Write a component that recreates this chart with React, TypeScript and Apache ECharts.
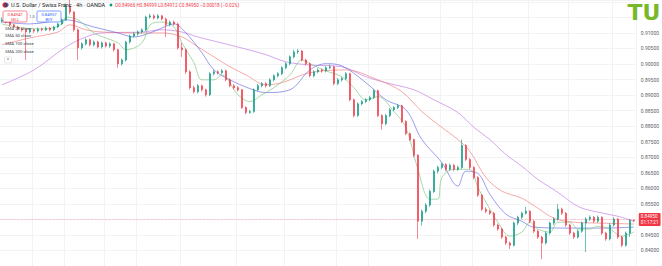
import React, { useEffect, useRef } from "react";
import * as echarts from "echarts";

// 4h USD/CHF candles
const opens = [
  0.9138, 0.9142, 0.9135, 0.9126, 0.9119, 0.9113, 0.9110, 0.9103, 0.9110, 0.9106,
  0.9113, 0.9110, 0.9116, 0.9110, 0.9119, 0.9129, 0.9142, 0.9187, 0.9167, 0.9110,
  0.9052, 0.9065, 0.9078, 0.9062, 0.9071, 0.9055, 0.9068, 0.9058, 0.9065, 0.9046,
  0.9001, 0.9013, 0.9071, 0.9090, 0.9097, 0.9103, 0.9110, 0.9151, 0.9155, 0.9148,
  0.9155, 0.9145, 0.9126, 0.9135, 0.9129, 0.9052, 0.9046, 0.8975, 0.8924, 0.8911,
  0.8930, 0.8917, 0.8901, 0.8969, 0.8975, 0.8972, 0.8978, 0.8949, 0.8930, 0.8924,
  0.8917, 0.8860, 0.8844, 0.8847, 0.8917, 0.8930, 0.8937, 0.8930, 0.8949, 0.8962,
  0.8969, 0.8988, 0.9001, 0.9023, 0.9039, 0.9042, 0.9013, 0.9001, 0.8962, 0.8975,
  0.8981, 0.8978, 0.8988, 0.8991, 0.8937, 0.8949, 0.8953, 0.8969, 0.8885, 0.8834,
  0.8872, 0.8879, 0.8885, 0.8892, 0.8914, 0.8834, 0.8808, 0.8834, 0.8853, 0.8860,
  0.8866, 0.8815, 0.8776, 0.8757, 0.8706, 0.8494, 0.8526, 0.8546, 0.8590, 0.8655,
  0.8667, 0.8677, 0.8661, 0.8674, 0.8661, 0.8667, 0.8738, 0.8693, 0.8667, 0.8635,
  0.8578, 0.8533, 0.8526, 0.8520, 0.8482, 0.8469, 0.8443, 0.8424, 0.8417, 0.8488,
  0.8507, 0.8520, 0.8526, 0.8494, 0.8462, 0.8443, 0.8424, 0.8456, 0.8488, 0.8501,
  0.8533, 0.8520, 0.8482, 0.8456, 0.8443, 0.8462, 0.8488, 0.8501, 0.8507, 0.8494,
  0.8507, 0.8456, 0.8437, 0.8482, 0.8501, 0.8443, 0.8417, 0.8456, 0.84966,
];
const closes = [
  0.9142, 0.9135, 0.9126, 0.9119, 0.9113, 0.9110, 0.9103, 0.9110, 0.9106, 0.9113,
  0.9110, 0.9116, 0.9110, 0.9119, 0.9129, 0.9142, 0.9187, 0.9167, 0.9110, 0.9052,
  0.9065, 0.9078, 0.9062, 0.9071, 0.9055, 0.9068, 0.9058, 0.9065, 0.9046, 0.9001,
  0.9013, 0.9071, 0.9090, 0.9097, 0.9103, 0.9110, 0.9151, 0.9155, 0.9148, 0.9155,
  0.9145, 0.9126, 0.9135, 0.9129, 0.9052, 0.9046, 0.8975, 0.8924, 0.8911, 0.8930,
  0.8917, 0.8901, 0.8969, 0.8975, 0.8972, 0.8978, 0.8949, 0.8930, 0.8924, 0.8917,
  0.8860, 0.8844, 0.8847, 0.8917, 0.8930, 0.8937, 0.8930, 0.8949, 0.8962, 0.8969,
  0.8988, 0.9001, 0.9023, 0.9039, 0.9042, 0.9013, 0.9001, 0.8962, 0.8975, 0.8981,
  0.8978, 0.8988, 0.8991, 0.8937, 0.8949, 0.8953, 0.8969, 0.8885, 0.8834, 0.8872,
  0.8879, 0.8885, 0.8892, 0.8914, 0.8834, 0.8808, 0.8834, 0.8853, 0.8860, 0.8866,
  0.8815, 0.8776, 0.8757, 0.8706, 0.8494, 0.8526, 0.8546, 0.8590, 0.8655, 0.8667,
  0.8677, 0.8661, 0.8674, 0.8661, 0.8667, 0.8738, 0.8693, 0.8667, 0.8635, 0.8578,
  0.8533, 0.8526, 0.8520, 0.8482, 0.8469, 0.8443, 0.8424, 0.8417, 0.8488, 0.8507,
  0.8520, 0.8526, 0.8494, 0.8462, 0.8443, 0.8424, 0.8456, 0.8488, 0.8501, 0.8533,
  0.8520, 0.8482, 0.8456, 0.8443, 0.8462, 0.8488, 0.8501, 0.8507, 0.8494, 0.8507,
  0.8456, 0.8437, 0.8482, 0.8501, 0.8443, 0.8417, 0.8456, 0.8497, 0.8495,
];
const highs = [
  0.9150, 0.9146, 0.9138, 0.9129, 0.9123, 0.9118, 0.9114, 0.9115, 0.9114, 0.9118,
  0.9117, 0.9121, 0.9120, 0.9123, 0.9133, 0.9146, 0.9195, 0.9212, 0.9170, 0.9114,
  0.9070, 0.9083, 0.9082, 0.9076, 0.9075, 0.9073, 0.9072, 0.9070, 0.9068, 0.9049,
  0.9018, 0.9075, 0.9095, 0.9102, 0.9108, 0.9115, 0.9156, 0.9162, 0.9160, 0.9161,
  0.9158, 0.9149, 0.9140, 0.9140, 0.9133, 0.9068, 0.9050, 0.8980, 0.8930, 0.8936,
  0.8934, 0.8921, 0.8974, 0.8981, 0.8980, 0.8984, 0.8982, 0.8954, 0.8936, 0.8929,
  0.8920, 0.8864, 0.8852, 0.8922, 0.8936, 0.8942, 0.8942, 0.8954, 0.8967, 0.8974,
  0.8993, 0.9006, 0.9028, 0.9046, 0.9048, 0.9045, 0.9017, 0.9005, 0.8980, 0.8986,
  0.8985, 0.8993, 0.8998, 0.8994, 0.8955, 0.8958, 0.8974, 0.8972, 0.8889, 0.8877,
  0.8884, 0.8890, 0.8897, 0.8920, 0.8918, 0.8838, 0.8839, 0.8858, 0.8865, 0.8872,
  0.8869, 0.8819, 0.8780, 0.8760, 0.8710, 0.8532, 0.8552, 0.8596, 0.8660, 0.8673,
  0.8683, 0.8681, 0.8680, 0.8678, 0.8673, 0.8757, 0.8742, 0.8697, 0.8671, 0.8639,
  0.8582, 0.8539, 0.8531, 0.8524, 0.8486, 0.8473, 0.8447, 0.8429, 0.8493, 0.8512,
  0.8525, 0.8540, 0.8530, 0.8498, 0.8466, 0.8447, 0.8461, 0.8493, 0.8507, 0.8549,
  0.8538, 0.8524, 0.8486, 0.8460, 0.8467, 0.8493, 0.8507, 0.8513, 0.8511, 0.8513,
  0.8510, 0.8460, 0.8488, 0.8508, 0.8505, 0.8447, 0.8461, 0.8502, 0.84999,
];
const lows = [
  0.9132, 0.9130, 0.9120, 0.9114, 0.9108, 0.9104, 0.9013, 0.9098, 0.9100, 0.9101,
  0.9105, 0.9106, 0.9105, 0.9106, 0.9115, 0.9125, 0.9138, 0.9160, 0.9104, 0.9013,
  0.9046, 0.9060, 0.9057, 0.9057, 0.9050, 0.9050, 0.9053, 0.9052, 0.9040, 0.8988,
  0.8995, 0.9008, 0.9066, 0.9085, 0.9091, 0.9098, 0.9106, 0.9146, 0.9143, 0.9144,
  0.9140, 0.9087, 0.9121, 0.9124, 0.9046, 0.9023, 0.8968, 0.8918, 0.8905, 0.8906,
  0.8911, 0.8895, 0.8897, 0.8963, 0.8966, 0.8967, 0.8944, 0.8925, 0.8918, 0.8911,
  0.8855, 0.8838, 0.8840, 0.8843, 0.8912, 0.8925, 0.8924, 0.8926, 0.8944, 0.8957,
  0.8964, 0.8983, 0.8996, 0.9018, 0.9033, 0.9008, 0.8995, 0.8957, 0.8957, 0.8970,
  0.8972, 0.8973, 0.8984, 0.8931, 0.8932, 0.8943, 0.8948, 0.8880, 0.8828, 0.8830,
  0.8867, 0.8874, 0.8880, 0.8887, 0.8829, 0.8789, 0.8803, 0.8829, 0.8848, 0.8855,
  0.8810, 0.8771, 0.8752, 0.8700, 0.8437, 0.8480, 0.8520, 0.8540, 0.8585, 0.8648,
  0.8661, 0.8655, 0.8656, 0.8655, 0.8656, 0.8662, 0.8688, 0.8661, 0.8629, 0.8572,
  0.8527, 0.8520, 0.8514, 0.8476, 0.8463, 0.8437, 0.8418, 0.8405, 0.8413, 0.8482,
  0.8501, 0.8515, 0.8488, 0.8456, 0.8437, 0.8372, 0.8419, 0.8451, 0.8482, 0.8496,
  0.8514, 0.8476, 0.8450, 0.8437, 0.8438, 0.8457, 0.8395, 0.8495, 0.8488, 0.8489,
  0.8450, 0.8431, 0.8432, 0.8477, 0.8437, 0.8411, 0.8412, 0.8443, 0.84912,
];

// Moving averages as [candle index, value]
const sma20 = [
  [0, 0.9129], [5, 0.9116], [11, 0.9113], [15, 0.9129], [16, 0.9151], [19, 0.9142],
  [23, 0.9100], [29, 0.9068], [31, 0.9046], [35, 0.9068], [37, 0.9126], [40, 0.9135],
  [43, 0.9119], [45, 0.9068], [48, 0.9004], [50, 0.8949], [53, 0.8949], [55, 0.8965],
  [59, 0.8901], [62, 0.8879], [65, 0.8901], [68, 0.8924], [72, 0.8965], [75, 0.9013],
  [77, 0.9001], [81, 0.8978], [85, 0.8959], [88, 0.8924], [91, 0.8885], [94, 0.8895],
  [98, 0.8847], [101, 0.8796], [104, 0.8661], [107, 0.8565], [109, 0.8565], [110, 0.8635],
  [113, 0.8661], [117, 0.8661], [119, 0.8603], [122, 0.8533], [124, 0.8491], [127, 0.8446],
  [130, 0.8459], [132, 0.8491], [134, 0.8469], [137, 0.8459], [139, 0.8491], [142, 0.8491],
  [144, 0.8469], [147, 0.8469], [149, 0.8478], [152, 0.8469], [155, 0.8446], [158, 0.8459],
];
const sma50 = [
  [0, 0.9135], [7, 0.9129], [16, 0.9142], [23, 0.9119], [29, 0.9100], [33, 0.9087],
  [37, 0.9100], [40, 0.9116], [43, 0.9129], [46, 0.9100], [50, 0.9036], [53, 0.8981],
  [57, 0.8949], [62, 0.8921], [66, 0.8908], [72, 0.8917], [77, 0.8981], [81, 0.9001],
  [85, 0.8994], [91, 0.8940], [96, 0.8885], [101, 0.8853], [105, 0.8757], [110, 0.8683],
  [114, 0.8607], [116, 0.8655], [119, 0.8648], [122, 0.8581], [126, 0.8517], [130, 0.8494],
  [133, 0.8475], [142, 0.8472], [150, 0.8472], [158, 0.8475],
];
const sma100 = [
  [0, 0.9062], [7, 0.9084], [14, 0.9103], [17, 0.9126], [21, 0.9110], [25, 0.9103],
  [35, 0.9100], [40, 0.9100], [45, 0.9087], [49, 0.9055], [53, 0.9023], [57, 0.8991],
  [61, 0.8965], [66, 0.8933], [70, 0.8940], [77, 0.8972], [86, 0.8981], [94, 0.8949],
  [100, 0.8911], [105, 0.8847], [110, 0.8796], [114, 0.8757], [117, 0.8719], [121, 0.8635],
  [125, 0.8591], [130, 0.8568], [134, 0.8536], [138, 0.8504], [143, 0.8491], [150, 0.8488],
  [158, 0.8485],
];
const sma200 = [
  [0, 0.8933], [8, 0.8981], [16, 0.9055], [21, 0.9087], [25, 0.9100], [35, 0.9103],
  [40, 0.9110], [45, 0.9103], [49, 0.9087], [58, 0.9058], [66, 0.9030], [71, 0.9007],
  [77, 0.8997], [85, 0.8991], [91, 0.8959], [96, 0.8940], [103, 0.8917], [108, 0.8885],
  [114, 0.8844], [118, 0.8796], [122, 0.8757], [126, 0.8709], [130, 0.8671], [134, 0.8629],
  [139, 0.8587], [144, 0.8542], [148, 0.8526], [154, 0.8510], [158, 0.8494],
];

const timeGridIdx = [8, 16, 26, 34, 45, 59, 71, 84, 92, 110, 118, 132, 142, 153];
const lastPrice = 0.8495;
const headerTitle = "U.S. Dollar / Swiss Franc · 4h · OANDA";
const headerOhlc = "O0.84966 H0.84999 L0.84912 C0.84950 −0.00018 (−0.02%)";
const sellPrice = "0.84947";
const buyPrice = "0.84957";
const spread = "1.0";
const countdown = "01:17:21";
const legendNames = ["SMA 20 close", "SMA 50 close", "SMA 100 close", "SMA 200 close"];

const UP = "#089981";
const DOWN = "#f23645";
const FONT = "Roboto, 'Liberation Sans', sans-serif";

export default function App() {
  const ref = useRef<HTMLDivElement>(null);
  useEffect(() => {
    document.body.style.margin = "0";
    const chart = echarts.init(ref.current!, null, { renderer: "svg" });
    const cats = closes.map((_, i) => String(i));
    const candles = closes.map((c, i) => [opens[i], c, lows[i], highs[i]]);
    const maLine = (name: string, data: number[][], color: string) => ({
      name,
      type: "line",
      data,
      showSymbol: false,
      symbol: "none",
      smooth: 0.35,
      connectNulls: true,
      silent: true,
      lineStyle: { color, width: 0.8, opacity: 0.85 },
      z: 3,
    });
    const legendY = [28, 35.5, 43, 51];
    chart.setOption({
      animation: false,
      backgroundColor: "#ffffff",
      grid: { left: 0, top: 0, width: 637, height: 267, containLabel: false },
      xAxis: {
        type: "category",
        data: cats,
        boundaryGap: true,
        axisLine: { show: false },
        axisTick: { show: false },
        axisLabel: { show: false },
        splitLine: {
          show: true,
          interval: (index: number) => timeGridIdx.includes(index),
          lineStyle: { color: "#f2f3f5", width: 1 },
        },
      },
      yAxis: {
        type: "value",
        position: "right",
        min: 0.835,
        max: 0.9206,
        interval: 0.005,
        axisLine: { show: false },
        axisTick: { show: false },
        splitLine: { lineStyle: { color: "#f2f3f5", width: 1 } },
        axisLabel: {
          fontSize: 5,
          color: "#5d606b",
          fontFamily: FONT,
          margin: 5,
          showMinLabel: false,
          showMaxLabel: false,
          // labels hidden in the reference under the logo and the price tag
          formatter: (v: number) =>
            v > 0.9125 || Math.abs(v - 0.85) < 1e-6 ? "" : v.toFixed(5),
        },
      },
      series: [
        maLine("SMA 200 close", sma200, "#c27be6"),
        maLine("SMA 100 close", sma100, "#f2807f"),
        maLine("SMA 50 close", sma50, "#6a6fe0"),
        maLine("SMA 20 close", sma20, "#7cc67f"),
        {
          name: "USDCHF",
          type: "candlestick",
          data: candles,
          barWidth: 2,
          z: 4,
          itemStyle: {
            color: UP,
            color0: DOWN,
            borderColor: UP,
            borderColor0: DOWN,
            borderWidth: 0.6,
          },
          markLine: {
            silent: true,
            symbol: "none",
            z: 10,
            lineStyle: { color: "rgba(242,54,69,0.45)", type: "dotted", width: 0.7, opacity: 1 },
            label: {
              show: true,
              position: "end",
              distance: 3,
              formatter: `${lastPrice.toFixed(5)}\n${countdown}`,
              backgroundColor: DOWN,
              color: "#ffffff",
              fontSize: 4.6,
              lineHeight: 5.5,
              fontFamily: FONT,
              padding: [1, 2, 1, 2],
              borderRadius: 1,
              opacity: 1,
            },
            data: [{ yAxis: lastPrice }],
          },
        },
      ],
      graphic: [
        { type: "circle", shape: { cx: 5, cy: 5, r: 2.6 }, style: { fill: "#d32f2f" }, z: 20 },
        { type: "circle", shape: { cx: 6.5, cy: 5, r: 2.2 }, style: { fill: "#1e3a8a", opacity: 0.7 }, z: 20 },
        {
          type: "text", x: 11, y: 5, z: 20,
          style: { text: headerTitle, fontSize: 5.6, fill: "#131722", fontFamily: FONT, verticalAlign: "middle" },
        },
        { type: "circle", shape: { cx: 111, cy: 5, r: 1.4 }, style: { fill: UP }, z: 20 },
        {
          type: "text", x: 115, y: 5, z: 20,
          style: { text: headerOhlc, fontSize: 4.7, fill: DOWN, fontFamily: FONT, verticalAlign: "middle" },
        },
        {
          type: "rect", shape: { x: 3, y: 11, width: 24, height: 11, r: 1.5 }, z: 20,
          style: { fill: "rgba(255,255,255,0.9)", stroke: DOWN, lineWidth: 0.6 },
        },
        {
          type: "text", x: 15, y: 14.5, z: 21,
          style: { text: sellPrice, fontSize: 4.2, fill: DOWN, fontFamily: FONT, align: "center", verticalAlign: "middle" },
        },
        {
          type: "text", x: 15, y: 19, z: 21,
          style: { text: "SELL", fontSize: 3.8, fill: DOWN, fontFamily: FONT, align: "center", verticalAlign: "middle" },
        },
        {
          type: "text", x: 32, y: 16.5, z: 21,
          style: { text: spread, fontSize: 3.8, fill: "#5d606b", fontFamily: FONT, align: "center", verticalAlign: "middle" },
        },
        {
          type: "rect", shape: { x: 37, y: 11, width: 24, height: 11, r: 1.5 }, z: 20,
          style: { fill: "rgba(255,255,255,0.9)", stroke: "#2962ff", lineWidth: 0.6 },
        },
        {
          type: "text", x: 49, y: 14.5, z: 21,
          style: { text: buyPrice, fontSize: 4.2, fill: "#2962ff", fontFamily: FONT, align: "center", verticalAlign: "middle" },
        },
        {
          type: "text", x: 49, y: 19, z: 21,
          style: { text: "BUY", fontSize: 3.8, fill: "#2962ff", fontFamily: FONT, align: "center", verticalAlign: "middle" },
        },
        ...legendNames.map((t, i) => ({
          type: "text", x: 5, y: legendY[i], z: 21,
          style: { text: t, fontSize: 4.3, fill: "#3c3f4a", fontFamily: FONT, verticalAlign: "middle" },
        })),
        {
          type: "rect", shape: { x: 4.5, y: 57, width: 7, height: 6, r: 1 }, z: 20,
          style: { fill: "#ffffff", stroke: "#c9ccd3", lineWidth: 0.5 },
        },
        {
          type: "text", x: 8, y: 60.8, z: 21,
          style: { text: "^", fontSize: 4.5, fill: "#3c3f4a", fontFamily: FONT, align: "center", verticalAlign: "middle" },
        },
        {
          type: "text", x: 644, y: 12, z: 22,
          style: {
            text: "TU", fontSize: 22, fontWeight: "bold", fill: "#78b82a",
            fontFamily: "'DejaVu Sans', sans-serif", align: "center", verticalAlign: "middle",
          },
        },
      ],
    });
    return () => chart.dispose();
  }, []);
  return <div ref={ref} style={{ width: 662, height: 266 }} />;
}
